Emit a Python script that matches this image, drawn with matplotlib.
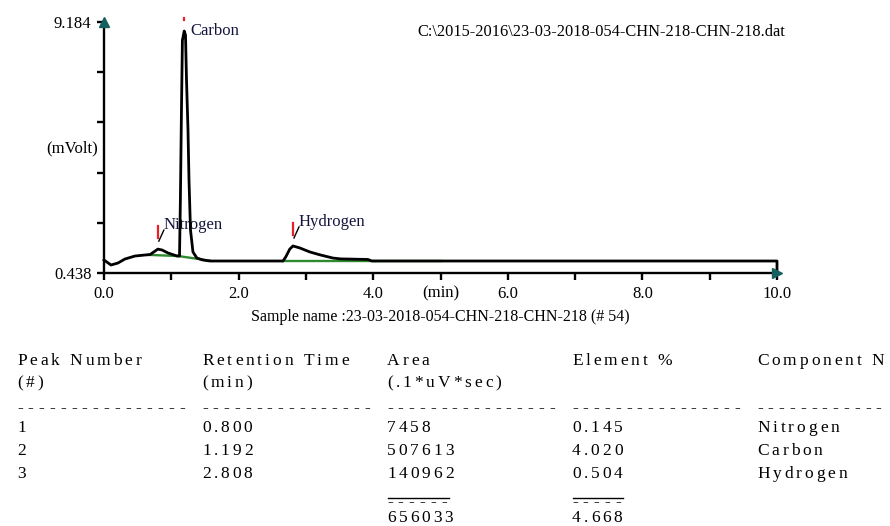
import numpy as np
import matplotlib
matplotlib.use('Agg')
import matplotlib.pyplot as plt
from matplotlib.lines import Line2D
from matplotlib.font_manager import FontProperties

# detector trace: retention time (min) and signal (mVolt)
time_min = [0.000, 0.104, 0.208, 0.312, 0.461, 0.609, 0.684, 0.758, 0.800, 0.862,
            0.951, 1.040, 1.085, 1.122, 1.135, 1.150, 1.165, 1.192, 1.211, 1.226,
            1.248, 1.263, 1.285, 1.322, 1.380, 1.470, 1.575, 2.660, 2.700, 2.760,
            2.808, 2.910, 3.060, 3.210, 3.400, 3.510, 3.920, 3.980, 10.000, 10.000]
signal_mv = [0.891, 0.717, 0.786, 0.926, 1.030, 1.065, 1.080, 1.200, 1.270, 1.240,
             1.135, 1.065, 1.030, 1.030, 2.980, 5.940, 8.550, 8.870, 8.730, 7.160,
             5.420, 3.680, 1.940, 1.170, 0.960, 0.890, 0.856, 0.856, 0.996, 1.270,
             1.380, 1.310, 1.170, 1.070, 0.960, 0.930, 0.910, 0.856, 0.856, 0.438]

# integration baselines (start, end)
base_t = [(0.65, 1.10), (1.10, 1.57), (2.66, 5.00)]
base_mv = [(1.07, 1.03), (1.03, 0.87), (0.856, 0.856)]

# peak report
peak_names = ['Nitrogen', 'Carbon', 'Hydrogen']
peak_times = [0.800, 1.192, 2.808]
peak_areas = [7458, 507613, 140962]
element_pct = [0.145, 4.020, 0.504]
total_pct = 4.668

y_min, y_max = 0.438, 9.184
file_name = r'C:\2015-2016\23-03-2018-054-CHN-218-CHN-218.dat'
sample_name = 'Sample name :23-03-2018-054-CHN-218-CHN-218 (# 54)'

W, H = 890, 526
plt.rcParams['font.family'] = ['Liberation Serif', 'DejaVu Serif']
fig = plt.figure(figsize=(W / 100, H / 100), dpi=100)


def fx(x):
    return x / W


def fy(y):
    return 1 - y / H


ax = fig.add_axes([fx(104), fy(273), (777 - 104) / W, (273 - 22) / H])
ax.set_xlim(0, 10)
ax.set_ylim(y_min, y_max)
for s in ['top', 'right']:
    ax.spines[s].set_visible(False)
for s in ['left', 'bottom']:
    ax.spines[s].set_linewidth(1.7)

ax.set_xticks(np.arange(0, 11, 1))
ax.set_xticklabels(['0.0', '', '2.0', '', '4.0', '(min)', '6.0', '', '8.0', '', '10.0'])
ax.set_yticks(np.linspace(y_min, y_max, 6))
ax.set_yticklabels([f'{y_min:.3f}', '', '', '', '', f'{y_max:.3f}'])
ax.tick_params(direction='out', length=5, width=1.7, labelsize=12, pad=4)

# axis arrow heads
ax.plot(0, 1, marker='^', ms=7, color='#15605e', transform=ax.transAxes, clip_on=False, zorder=5)
ax.plot(1, 0, marker='>', ms=7, color='#15605e', transform=ax.transAxes, clip_on=False, zorder=5)

for (t0, t1), (v0, v1) in zip(base_t, base_mv):
    ax.plot([t0, t1], [v0, v1], color='#2f8a2f', lw=1.7, zorder=2)
ax.plot(time_min, signal_mv, color='black', lw=2.0, zorder=3, clip_on=False)

# peak markers and labels, placed in pixels relative to the apex
to_px = ax.transData.transform
to_data = ax.transData.inverted().transform
tick_len = [12, 2, 12]
for name, t, ln in zip(peak_names, peak_times, tick_len):
    v = np.interp(t, time_min, signal_mv)
    px, py = to_px((t, v))
    a = to_data((px, py + 11))
    b = to_data((px, py + 11 + ln))
    ax.plot([a[0], b[0]], [a[1], b[1]], color='#e8202a', lw=1.6, clip_on=False, zorder=4)
    if name == 'Carbon':
        lx, ly = to_data((px + 6, py))
    else:
        c0 = to_data((px + 1, py + 8))
        c1 = to_data((px + 6, py + 19))
        ax.plot([c0[0], c1[0]], [c0[1], c1[1]], color='black', lw=1.0, clip_on=False, zorder=4)
        lx, ly = to_data((px + 6, py + 24))
    ax.text(lx, ly, name, fontsize=12, color='#14143c', ha='left', va='center', zorder=1)

fig.text(fx(98), fy(148), '(mVolt)', fontsize=12, ha='right', va='center')
fig.text(fx(417), fy(32), file_name, fontsize=11.8, ha='left', va='center')
fig.text(fx(440), fy(317), sample_name, fontsize=11.5, ha='center', va='center')

# peak table: letter-spaced text, dash rulers on a fixed pitch
tab_font = FontProperties(family='Liberation Serif', size=12.5)
renderer = fig.canvas.get_renderer()
tracking = 2.9
space_w = 4.5
col_x = [17, 202, 387, 572, 757]


def spaced(x, y, s):
    for ch in s:
        if ch == ' ':
            x += space_w + tracking
            continue
        fig.text(fx(x), fy(y), ch, fontproperties=tab_font, ha='left', va='baseline')
        w, _, _ = renderer.get_text_width_height_descent(ch, tab_font, ismath=False)
        x += w + tracking


def ruler(x, y, n, pitch=10.8):
    for i in range(n):
        fig.text(fx(x + i * pitch), fy(y), '-', fontproperties=tab_font,
                 ha='left', va='baseline')


head1 = ['Peak Number', 'Retention Time', 'Area', 'Element %', 'Component N']
head2 = ['(#)', '(min)', '(.1*uV*sec)', '', '']
for i, (x, h1, h2) in enumerate(zip(col_x, head1, head2)):
    spaced(x, 365, h1)
    spaced(x, 387, h2)
    ruler(x, 412, 12 if i == 4 else 16)

row_y = [432, 455, 478]
for i, y in enumerate(row_y):
    cells = [str(i + 1), f'{peak_times[i]:.3f}', str(peak_areas[i]),
             f'{element_pct[i]:.3f}', peak_names[i]]
    for x, c in zip(col_x, cells):
        spaced(x, y, c)

area_total = str(sum(peak_areas))
pct_total = f'{total_pct:.3f}'
for x, s in [(col_x[2], area_total), (col_x[3], pct_total)]:
    ruler(x, 506, len(s))
    fig.add_artist(Line2D([fx(x + 1), fx(x + len(s) * 10.8 - 3)], [fy(498), fy(498)],
                          color='black', lw=1.0))
    spaced(x, 522, s)

fig.savefig('out.png', dpi=100)
